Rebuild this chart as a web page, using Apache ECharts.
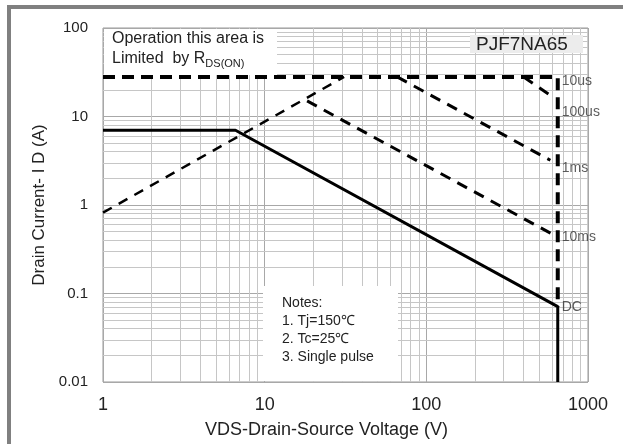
<!DOCTYPE html>
<html lang="en">
    <head>
        <meta charset="UTF-8">
        <title>PJF7NA65 Safe Operating Area</title>
        <style>
            *{
                margin: 0;
                padding: 0;
            }
            body{
                background: #fff;
            }
            #chart{
                width: 623px;
                height: 444px;
            }
        </style>
        <script src="https://cdn.jsdelivr.net/npm/echarts@6/dist/echarts.min.js"></script>
    </head>
    <body>
        <div id="chart"></div>
        <script>
            // tick labels
            var xTickLabels = ['1', '10', '100', '1000'];
            var yTickLabels = ['0.01', '0.1', '1', '10', '100'];

            // curves: VDS (V) and ID (A)
            var dcV = [1, 6.6, 650, 650];
            var dcI = [7, 7, 0.071, 0.01];
            var rdsV = [1, 31];
            var rdsI = [0.82, 28];
            var limitV = [1, 650, 650];
            var limitI = [28, 28, 0.071];
            var us100V = [400, 595];
            var us100I = [28, 17];
            var ms1V = [66, 585];
            var ms1I = [28, 3.2];
            var ms10V = [18.3, 640];
            var ms10I = [15, 0.44];

            // curve labels at the 650 V edge
            var curveNames = ['10us', '100us', '1ms', '10ms', 'DC'];
            var curveLabelV = [650, 650, 650, 650, 650];
            var curveLabelI = [25.3, 11.3, 2.62, 0.435, 0.07];

            var font = '"Liberation Sans", Arial, sans-serif';

            function pairs(xs, ys){
                return xs.map(function(x, i){ return [x, ys[i]]; });
            }

            // minor log grid values (2..9 per decade)
            function minorValues(from, decades){
                var out = [];
                for (var d = 0; d < decades; d++){
                    for (var k = 2; k <= 9; k++){
                        out.push(+(k * from * Math.pow(10, d)).toPrecision(6));
                    }
                }
                return out;
            }
            var gridLines = minorValues(1, 3).map(function(v){ return {xAxis: v}; })
                .concat(minorValues(0.01, 4).map(function(v){ return {yAxis: v}; }));

            function dashed(name, xs, ys, width, dash){
                return {
                    name: name,
                    type: 'line',
                    data: pairs(xs, ys),
                    showSymbol: false,
                    symbol: 'none',
                    z: 5,
                    lineStyle: {color: '#000', width: width, type: dash, cap: 'butt'}
                };
            }

            var chart = echarts.init(document.getElementById('chart'));
            var option = {
                animation: false,
                grid: {
                    left: 103,
                    top: 28,
                    right: 35,
                    bottom: 62,
                    show: true,
                    borderColor: '#999',
                    borderWidth: 1
                },
                xAxis: {
                    type: 'log',
                    logBase: 10,
                    min: 1,
                    max: 1000,
                    name: 'VDS-Drain-Source Voltage (V)',
                    nameLocation: 'middle',
                    nameGap: 39,
                    nameTextStyle: {fontFamily: font, fontSize: 18, color: '#222', padding: [0, 38, 0, 0]},
                    axisLine: {show: false},
                    axisTick: {show: false},
                    axisLabel: {
                        fontFamily: font, fontSize: 18, color: '#222', margin: 14,
                        formatter: function(v){ return xTickLabels[Math.round(Math.log10(v))]; }
                    },
                    splitLine: {show: true, lineStyle: {color: '#a8a8a8', width: 1}}
                },
                yAxis: {
                    type: 'log',
                    logBase: 10,
                    min: 0.01,
                    max: 100,
                    name: 'Drain Current- I D (A)',
                    nameLocation: 'middle',
                    nameGap: 53,
                    nameTextStyle: {fontFamily: font, fontSize: 17, color: '#222'},
                    axisLine: {show: false},
                    axisTick: {show: false},
                    axisLabel: {
                        fontFamily: font, fontSize: 15, color: '#222', margin: 15,
                        formatter: function(v){ return yTickLabels[Math.round(Math.log10(v)) + 2]; }
                    },
                    splitLine: {show: true, lineStyle: {color: '#a8a8a8', width: 1}}
                },
                graphic: [
                    // outer frame
                    {type: 'rect', z: 10, shape: {x: 9, y: 7, width: 700, height: 500},
                        style: {fill: null, stroke: '#808080', lineWidth: 4}},
                    // boxes covering the grid
                    {type: 'rect', z: 3, shape: {x: 104, y: 29, width: 173, height: 46}, style: {fill: '#fff'}},
                    {type: 'rect', z: 3, shape: {x: 263, y: 286, width: 135, height: 95}, style: {fill: '#fff'}},
                    {type: 'rect', z: 3, shape: {x: 470, y: 35, width: 113, height: 18}, style: {fill: '#ececec'}},
                    {type: 'text', z: 4, x: 112, y: 29, style: {
                        text: 'Operation this area is\nLimited  by R{sub|DS(ON)}',
                        fontFamily: font, fontSize: 16, lineHeight: 20, fill: '#222',
                        rich: {sub: {fontFamily: font, fontSize: 11, fill: '#222', verticalAlign: 'bottom', lineHeight: 20, padding: [6, 0, 0, 0]}}
                    }},
                    {type: 'text', z: 4, x: 476, y: 34, style: {
                        text: 'PJF7NA65', fontFamily: font, fontSize: 19, lineHeight: 21, fill: '#222'
                    }},
                    {type: 'text', z: 4, x: 282, y: 294, style: {
                        text: 'Notes:\n1. Tj=150\u2103\n2. Tc=25\u2103\n3. Single pulse',
                        fontFamily: font, fontSize: 14, lineHeight: 18, fill: '#222'
                    }}
                ],
                series: [
                    {
                        name: 'grid',
                        type: 'line',
                        data: [],
                        z: 1,
                        silent: true,
                        markLine: {
                            z: 1,
                            silent: true,
                            symbol: ['none', 'none'],
                            label: {show: false},
                            lineStyle: {color: '#c6c6c6', width: 1, type: 'solid'},
                            data: gridLines
                        }
                    },
                    {
                        name: 'DC',
                        type: 'line',
                        data: pairs(dcV, dcI),
                        showSymbol: false,
                        symbol: 'none',
                        z: 6,
                        lineStyle: {color: '#000', width: 3}
                    },
                    dashed('RDS(ON)', rdsV, rdsI, 2.5, [10, 8]),
                    dashed('10us', limitV, limitI, 4, [12, 7]),
                    dashed('100us', us100V, us100I, 3, [11, 8]),
                    dashed('1ms', ms1V, ms1I, 3, [11, 8]),
                    dashed('10ms', ms10V, ms10I, 3, [11, 8]),
                    {
                        name: 'labels',
                        type: 'scatter',
                        data: pairs(curveLabelV, curveLabelI),
                        symbolSize: 0,
                        z: 7,
                        silent: true,
                        label: {
                            show: true,
                            position: 'right',
                            distance: 4,
                            fontFamily: font,
                            fontSize: 14,
                            color: '#333',
                            formatter: function(p){ return curveNames[p.dataIndex]; }
                        }
                    }
                ]
            };
            chart.setOption(option);

            window.onresize = function () {
                chart.resize();
            };
        </script>
    </body>
</html>
